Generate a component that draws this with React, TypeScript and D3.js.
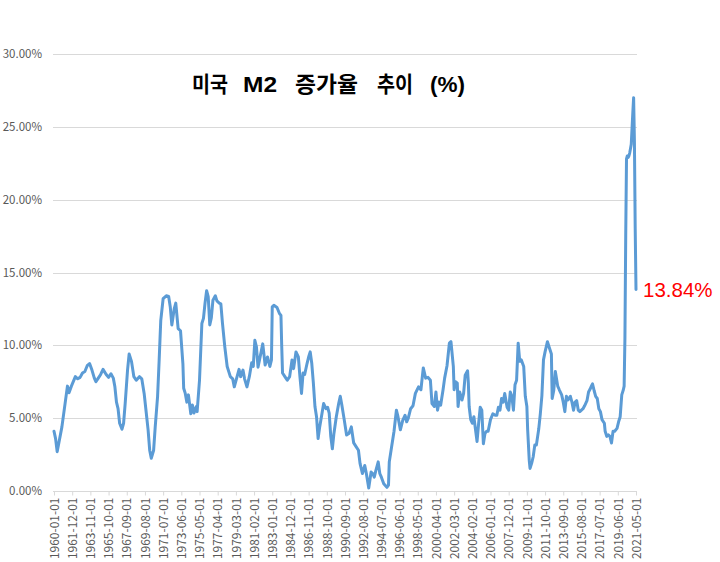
import React, { useEffect, useRef } from 'react';
import * as d3 from 'd3';

// monthly readings (YYYY-MM) and M2 year-on-year growth in %
const dates = [
  '1960-01', '1960-03', '1960-05', '1960-11', '1961-03', '1961-06', '1961-08', '1961-11',
  '1962-04', '1962-07', '1962-10', '1963-01', '1963-04', '1963-07', '1963-10', '1964-01',
  '1964-04', '1964-06', '1964-09', '1964-12', '1965-03', '1965-07', '1965-10', '1966-01',
  '1966-04', '1966-06', '1966-08', '1966-10', '1966-12', '1967-03', '1967-05', '1967-07',
  '1967-10', '1967-12', '1968-03', '1968-06', '1968-09', '1969-01', '1969-04', '1969-07',
  '1969-09', '1969-12', '1970-02', '1970-04', '1970-07', '1970-09', '1970-12', '1971-02',
  '1971-04', '1971-07', '1971-11', '1972-02', '1972-04', '1972-06', '1972-09', '1972-11',
  '1973-02', '1973-05', '1973-08', '1973-09', '1973-11', '1974-01', '1974-03', '1974-06',
  '1974-08', '1974-10', '1975-01', '1975-02', '1975-05', '1975-08', '1975-10', '1975-12',
  '1976-02', '1976-04', '1976-06', '1976-08', '1976-10', '1977-01', '1977-03', '1977-06',
  '1977-08', '1977-10', '1978-01', '1978-04', '1978-08', '1978-11', '1979-01', '1979-04',
  '1979-07', '1979-09', '1979-12', '1980-02', '1980-05', '1980-08', '1980-11', '1981-01',
  '1981-03', '1981-05', '1981-07', '1982-01', '1982-04', '1982-07', '1982-10', '1982-12',
  '1983-01', '1983-03', '1983-07', '1983-10', '1983-12', '1984-01', '1984-02', '1984-05',
  '1984-08', '1984-11', '1985-02', '1985-04', '1985-07', '1985-10', '1985-12', '1986-02',
  '1986-04', '1986-06', '1986-09', '1986-11', '1987-01', '1987-03', '1987-05', '1987-07',
  '1987-09', '1987-11', '1988-01', '1988-04', '1988-06', '1988-09', '1988-11', '1989-01',
  '1989-03', '1989-05', '1989-07', '1989-10', '1990-01', '1990-03', '1990-05', '1990-08',
  '1990-11', '1991-02', '1991-05', '1991-08', '1991-11', '1992-02', '1992-04', '1992-07',
  '1992-10', '1992-12', '1993-03', '1993-06', '1993-08', '1993-10', '1993-12', '1994-03',
  '1994-05', '1994-07', '1994-10', '1995-02', '1995-04', '1995-05', '1995-08', '1995-11',
  '1996-02', '1996-04', '1996-07', '1996-10', '1997-01', '1997-03', '1997-05', '1997-08',
  '1997-11', '1998-02', '1998-06', '1998-09', '1998-12', '1999-03', '1999-06', '1999-09',
  '1999-11', '2000-02', '2000-04', '2000-06', '2000-08', '2000-10', '2001-01', '2001-03',
  '2001-06', '2001-09', '2001-11', '2002-02', '2002-03', '2002-05', '2002-07', '2002-08',
  '2002-10', '2003-01', '2003-03', '2003-05', '2003-08', '2003-09', '2003-10', '2003-12',
  '2004-02', '2004-04', '2004-05', '2004-08', '2004-10', '2004-12', '2005-02', '2005-04',
  '2005-06', '2005-08', '2005-10', '2006-01', '2006-04', '2006-07', '2006-09', '2006-11',
  '2007-01', '2007-03', '2007-05', '2007-07', '2007-10', '2007-12', '2008-02', '2008-04',
  '2008-06', '2008-08', '2008-10', '2008-12', '2009-02', '2009-04', '2009-07', '2009-09',
  '2009-11', '2009-12', '2010-02', '2010-03', '2010-05', '2010-07', '2010-09', '2010-11',
  '2011-02', '2011-04', '2011-06', '2011-08', '2011-10', '2012-01', '2012-03', '2012-06',
  '2012-07', '2012-09', '2012-11', '2013-02', '2013-04', '2013-07', '2013-09', '2013-11',
  '2014-01', '2014-03', '2014-06', '2014-08', '2014-10', '2014-12', '2015-02', '2015-04',
  '2015-06', '2015-08', '2015-10', '2015-12', '2016-03', '2016-05', '2016-07', '2016-09',
  '2016-10', '2016-12', '2017-02', '2017-04', '2017-06', '2017-08', '2017-10', '2018-01',
  '2018-02', '2018-04', '2018-06', '2018-08', '2018-10', '2018-12', '2019-02', '2019-05',
  '2019-07', '2019-09', '2019-11', '2020-01', '2020-02', '2020-03', '2020-04', '2020-05',
  '2020-06', '2020-07', '2020-08', '2020-09', '2020-10', '2020-11', '2020-12', '2021-01',
  '2021-02', '2021-03', '2021-04', '2021-05',
];

const growth = [
  4.1, 3.6, 2.7, 4.4, 6.0, 7.2, 6.75, 7.2,
  7.85, 7.7, 7.8, 8.1, 8.2, 8.6, 8.75, 8.3,
  7.75, 7.5, 7.75, 8.0, 8.35, 8.0, 7.8, 8.05,
  7.75, 7.15, 6.1, 5.65, 4.65, 4.24, 4.65, 6.0,
  8.3, 9.4, 8.9, 7.85, 7.6, 7.85, 7.7, 6.7,
  5.7, 4.2, 2.8, 2.25, 2.8, 4.4, 6.5, 9.0,
  11.7, 13.2, 13.4, 13.35, 12.65, 11.4, 12.5, 12.9,
  11.15, 11.0, 8.75, 7.05, 6.7, 6.1, 6.6, 5.3,
  5.9, 5.35, 5.8, 5.45, 7.6, 11.5, 11.85, 12.9,
  13.75, 13.35, 11.4, 11.9, 13.1, 13.4, 13.05, 12.9,
  12.85, 11.55, 9.9, 8.55, 7.85, 7.7, 7.15, 7.75,
  8.35, 7.85, 8.3, 7.7, 7.15, 7.85, 8.8, 8.55,
  10.35, 9.9, 8.5, 10.1, 8.65, 9.2, 8.55, 9.0,
  12.65, 12.75, 12.6, 12.2, 12.05, 9.9, 8.1, 7.85,
  7.6, 7.85, 9.0, 8.4, 9.55, 9.2, 7.85, 6.7,
  8.1, 8.0, 8.75, 9.2, 9.55, 8.75, 7.4, 5.8,
  5.1, 3.6, 4.4, 5.35, 6.0, 5.65, 5.75, 5.35,
  3.75, 2.9, 3.95, 5.1, 6.0, 6.5, 5.9, 4.9,
  3.85, 3.95, 4.4, 3.3, 3.05, 2.8, 1.9, 1.2,
  1.75, 1.2, 0.2, 1.3, 1.2, 0.95, 1.4, 2.0,
  1.2, 0.95, 0.5, 0.25, 0.4, 2.0, 3.05, 4.1,
  5.55, 5.1, 4.2, 4.85, 5.2, 4.75, 5.0, 5.65,
  5.85, 6.7, 7.15, 6.95, 8.45, 7.75, 7.8, 7.6,
  6.0, 5.8, 6.8, 5.55, 6.1, 5.9, 6.95, 7.75,
  8.6, 10.15, 10.25, 8.55, 6.95, 7.5, 7.4, 5.8,
  6.8, 6.25, 6.7, 7.95, 8.25, 7.4, 5.8, 4.9,
  4.65, 5.1, 4.65, 3.4, 4.65, 5.75, 5.55, 3.25,
  3.95, 4.1, 4.1, 4.9, 5.3, 5.2, 5.2, 5.75,
  5.55, 6.35, 6.1, 6.7, 5.75, 5.55, 6.8, 6.5,
  5.55, 7.3, 7.6, 10.15, 8.9, 9.0, 8.55, 6.5,
  5.8, 4.2, 2.1, 1.55, 1.9, 2.35, 3.15, 3.15,
  4.25, 5.3, 6.55, 9.0, 9.55, 10.25, 9.9, 9.4,
  6.35, 6.9, 8.2, 7.2, 6.95, 6.6, 6.1, 5.45,
  6.5, 6.25, 6.5, 6.1, 5.55, 6.1, 6.2, 5.55,
  5.45, 5.55, 5.65, 5.85, 6.2, 6.8, 7.0, 7.25,
  7.35, 6.9, 6.5, 6.35, 5.65, 5.45, 4.9, 4.65,
  4.1, 3.75, 3.85, 3.75, 3.3, 4.1, 4.1, 4.3,
  4.75, 5.1, 6.6, 6.95, 7.2, 10.5, 17.5, 22.8,
  23.0, 22.9, 23.0, 23.2, 23.5, 23.8, 24.9, 26.0,
  27.0, 24.0, 18.0, 13.84,
];

const xTickLabels = [
  '1960-01-01', '1961-12-01', '1963-11-01', '1965-10-01', '1967-09-01', '1969-08-01',
  '1971-07-01', '1973-06-01', '1975-05-01', '1977-04-01', '1979-03-01', '1981-02-01',
  '1983-01-01', '1984-12-01', '1986-11-01', '1988-10-01', '1990-09-01', '1992-08-01',
  '1994-07-01', '1996-06-01', '1998-05-01', '2000-04-01', '2002-03-01', '2004-02-01',
  '2006-01-01', '2007-12-01', '2009-11-01', '2011-10-01', '2013-09-01', '2015-08-01',
  '2017-07-01', '2019-06-01', '2021-05-01',
];

const yTicks = [0, 5, 10, 15, 20, 25, 30];
const titleWords = ['미국', 'M2', '증가율', '추이', '(%)'];
const lastLabel = '13.84%';

// where each title word sits and how wide it is drawn
const titleX = [192, 243, 295, 377, 430];
const titleW = [36, 34, 63, 36, 35];

const monthIndex = (s: string) => {
  const [y, m] = s.split('-').map(Number);
  return (y - 1960) * 12 + (m - 1);
};

export default function App() {
  const svgRef = useRef<SVGSVGElement | null>(null);

  const W = 720;
  const H = 562;
  const margin = { top: 54, right: 84, bottom: 71, left: 54 };

  useEffect(() => {
    const svg = d3.select(svgRef.current);
    svg.selectAll('*').remove();

    const x = d3
      .scaleLinear()
      .domain([0, monthIndex('2021-05')])
      .range([margin.left, W - margin.right]);
    const y = d3
      .scaleLinear()
      .domain([0, 30])
      .range([H - margin.bottom, margin.top]);

    // horizontal grid
    svg
      .append('g')
      .selectAll('line')
      .data(yTicks.filter((d) => d > 0))
      .join('line')
      .attr('x1', x.range()[0] - 1)
      .attr('x2', x.range()[1] + 1)
      .attr('y1', (d) => Math.round(y(d)) + 0.5)
      .attr('y2', (d) => Math.round(y(d)) + 0.5)
      .attr('stroke', '#d9d9d9')
      .attr('stroke-width', 1);

    // y labels
    svg
      .append('g')
      .selectAll('text')
      .data(yTicks)
      .join('text')
      .attr('x', 42)
      .attr('y', (d) => y(d))
      .attr('dy', '0.35em')
      .attr('text-anchor', 'end')
      .attr('font-family', "'Noto Sans CJK KR', 'Noto Sans', sans-serif")
      .attr('font-size', 11.5)
      .attr('fill', '#595959')
      .text((d) => `${d3.format('.2f')(d)}%`);

    // x axis
    const xAxis = svg
      .append('g')
      .attr('transform', `translate(0, ${Math.round(y(0)) + 0.5})`)
      .call(
        d3
          .axisBottom(x)
          .tickValues(xTickLabels.map((s) => monthIndex(s.slice(0, 7))))
          .tickSize(4)
          .tickPadding(6)
          .tickFormat((_, i) => xTickLabels[i]),
      );
    xAxis.select('.domain').attr('stroke', '#d9d9d9').attr('d', `M${x.range()[0] - 1},0H${x.range()[1] + 1}`);
    xAxis.selectAll('.tick line').attr('stroke', '#d9d9d9');
    xAxis
      .selectAll('.tick text')
      .attr('transform', 'rotate(-90)')
      .attr('text-anchor', 'end')
      .attr('x', -6)
      .attr('y', 0)
      .attr('dy', '0.35em')
      .attr('font-family', "'Noto Sans CJK KR', 'Noto Sans', sans-serif")
      .attr('font-size', 12)
      .attr('fill', '#595959');

    // line
    const pts = dates.map((d, i) => [monthIndex(d), growth[i]] as [number, number]);
    const line = d3
      .line<[number, number]>()
      .x((d) => x(d[0]))
      .y((d) => y(d[1]));
    svg
      .append('path')
      .datum(pts)
      .attr('d', line)
      .attr('fill', 'none')
      .attr('stroke', '#5b9bd5')
      .attr('stroke-width', 3)
      .attr('stroke-linejoin', 'round')
      .attr('stroke-linecap', 'round');

    // last value label
    const last = pts[pts.length - 1];
    svg
      .append('text')
      .attr('x', x(last[0]) + 7)
      .attr('y', y(last[1]) + 8)
      .attr('font-family', "'Liberation Sans', Arial, sans-serif")
      .attr('font-size', 20.5)
      .attr('fill', '#ff0000')
      .text(lastLabel);

    // title, one text per word
    svg
      .append('g')
      .selectAll('text')
      .data(titleWords)
      .join('text')
      .attr('x', (_, i) => titleX[i])
      .attr('y', 92)
      .attr('font-weight', 'bold')
      .attr('font-size', 22)
      .attr('font-family', (d) =>
        /[가-힣]/.test(d) ? "'Noto Sans CJK KR', sans-serif" : "'Liberation Sans', Arial, sans-serif",
      )
      .attr('textLength', (_, i) => titleW[i])
      .attr('lengthAdjust', 'spacingAndGlyphs')
      .attr('fill', '#000')
      .text((d) => d);
  });

  return (
    <svg
      ref={svgRef}
      width={W}
      height={H}
      style={{ position: 'absolute', left: 0, top: 0, background: '#fff' }}
    ></svg>
  );
}
